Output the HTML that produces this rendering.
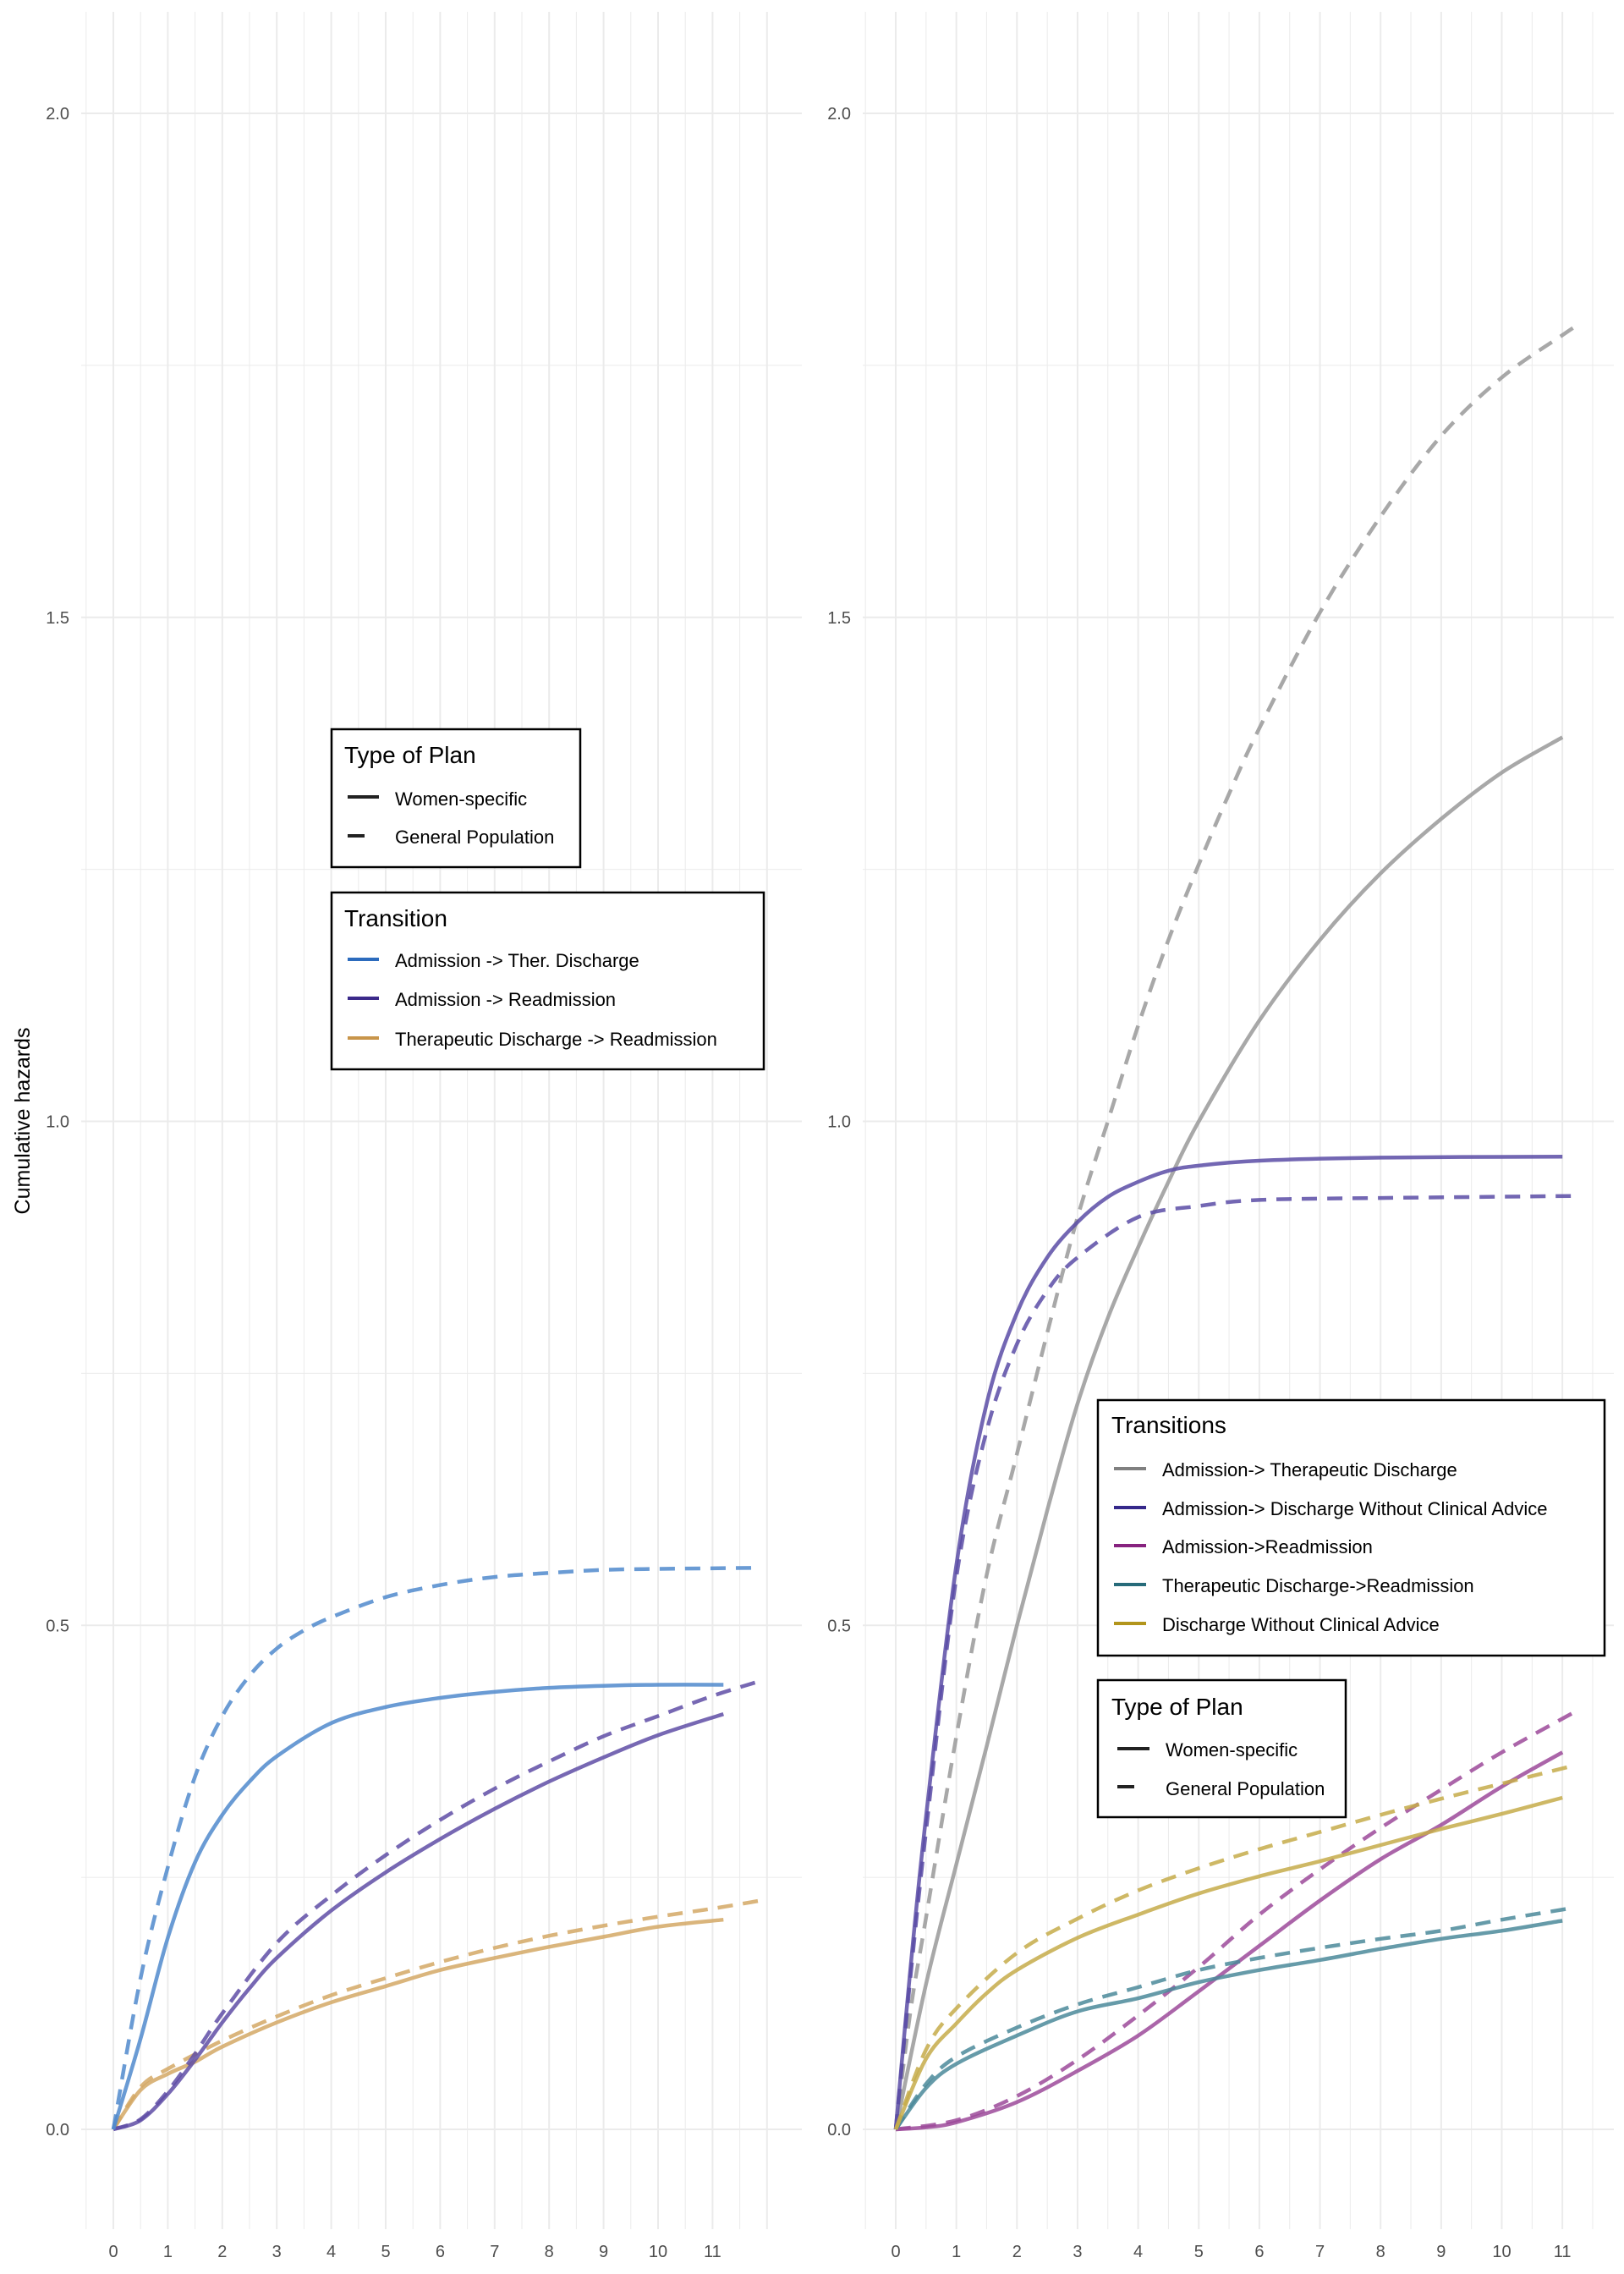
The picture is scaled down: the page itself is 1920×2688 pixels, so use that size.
<!DOCTYPE html>
<html><head><meta charset="utf-8"><title>Cumulative hazards</title>
<style>
html,body{margin:0;padding:0;background:#fff;}
svg{display:block;font-family:"Liberation Sans",Arial,sans-serif;}
</style></head>
<body>
<svg id="chart" width="1920" height="2688" viewBox="0 0 1920 2688" xmlns="http://www.w3.org/2000/svg">
<g id="grid"></g>
<g id="series"></g>
<g id="axes"></g>
<text x="0" y="0" transform="translate(35,1325) rotate(-90)" text-anchor="middle" font-size="25" fill="#000">Cumulative hazards</text>

<g>
<rect x="392" y="862" width="294" height="163" fill="#fff" stroke="#000" stroke-width="2.5"/>
<text x="407" y="902" font-size="28" fill="#000">Type of Plan</text>
<line x1="411" y1="942" x2="448" y2="942" stroke="#222" stroke-width="4"/>
<text x="467" y="952" font-size="22" fill="#000">Women-specific</text>
<line x1="411" y1="988" x2="431" y2="988" stroke="#222" stroke-width="4"/>
<text x="467" y="997" font-size="22" fill="#000">General Population</text>
</g>
<g>
<rect x="392" y="1055" width="511" height="209" fill="#fff" stroke="#000" stroke-width="2.5"/>
<text x="407" y="1095" font-size="28" fill="#000">Transition</text>
<line x1="411" y1="1134" x2="448" y2="1134" stroke="#2c6bbd" stroke-width="4"/>
<text x="467" y="1143" font-size="22" fill="#000">Admission -&gt; Ther. Discharge</text>
<line x1="411" y1="1180" x2="448" y2="1180" stroke="#3b2a8a" stroke-width="4"/>
<text x="467" y="1189" font-size="22" fill="#000">Admission -&gt; Readmission</text>
<line x1="411" y1="1227" x2="448" y2="1227" stroke="#c8954a" stroke-width="4"/>
<text x="467" y="1236" font-size="22" fill="#000">Therapeutic Discharge -&gt; Readmission</text>
</g>
<g>
<rect x="1298" y="1655" width="599" height="302" fill="#fff" stroke="#000" stroke-width="2.5"/>
<text x="1314" y="1694" font-size="28" fill="#000">Transitions</text>
<line x1="1317" y1="1736" x2="1355" y2="1736" stroke="#808080" stroke-width="4"/>
<text x="1374" y="1745" font-size="22" fill="#000">Admission-&gt; Therapeutic Discharge</text>
<line x1="1317" y1="1782" x2="1355" y2="1782" stroke="#35288a" stroke-width="4"/>
<text x="1374" y="1791" font-size="22" fill="#000">Admission-&gt; Discharge Without Clinical Advice</text>
<line x1="1317" y1="1827" x2="1355" y2="1827" stroke="#87227f" stroke-width="4"/>
<text x="1374" y="1836" font-size="22" fill="#000">Admission-&gt;Readmission</text>
<line x1="1317" y1="1873" x2="1355" y2="1873" stroke="#276b7a" stroke-width="4"/>
<text x="1374" y="1882" font-size="22" fill="#000">Therapeutic Discharge-&gt;Readmission</text>
<line x1="1317" y1="1919" x2="1355" y2="1919" stroke="#b2951c" stroke-width="4"/>
<text x="1374" y="1928" font-size="22" fill="#000">Discharge Without Clinical Advice</text>
</g>
<g>
<rect x="1298" y="1986" width="293" height="162" fill="#fff" stroke="#000" stroke-width="2.5"/>
<text x="1314" y="2027" font-size="28" fill="#000">Type of Plan</text>
<line x1="1321" y1="2067" x2="1359" y2="2067" stroke="#222" stroke-width="4"/>
<text x="1378" y="2076" font-size="22" fill="#000">Women-specific</text>
<line x1="1321" y1="2112" x2="1341" y2="2112" stroke="#222" stroke-width="4"/>
<text x="1378" y="2122" font-size="22" fill="#000">General Population</text>
</g>
</svg>
<script>
// ---- Left panel data ----
const leftBlueSolidX = [0,0.5,1,1.5,2,2.5,3,4,5,6,7,8,9,10,11.2];
const leftBlueSolidY = [0,0.09,0.19,0.265,0.312,0.345,0.37,0.403,0.419,0.428,0.434,0.438,0.44,0.441,0.441];
const leftBlueDashX = [0,0.5,1,1.5,2,2.5,3,3.5,4,5,6,7,8,9,10,11.8];
const leftBlueDashY = [0,0.15,0.26,0.35,0.41,0.45,0.477,0.495,0.508,0.528,0.54,0.548,0.552,0.555,0.556,0.557];
const leftPurpleSolidX = [0,0.5,1,1.5,2,2.5,3,4,5,6,7,8,9,10,11.2];
const leftPurpleSolidY = [0,0.009,0.035,0.069,0.106,0.14,0.17,0.217,0.255,0.288,0.318,0.345,0.369,0.391,0.412];
const leftPurpleDashX = [0,0.5,1,1.5,2,3,4,5,6,7,8,9,10,11,11.95];
const leftPurpleDashY = [0,0.01,0.038,0.075,0.115,0.185,0.232,0.272,0.307,0.338,0.365,0.39,0.41,0.43,0.446];
const leftTanSolidX = [0,0.5,1,1.5,2,3,4,5,6,7,8,9,10,11.2];
const leftTanSolidY = [0,0.039,0.055,0.067,0.082,0.106,0.126,0.142,0.158,0.17,0.181,0.191,0.201,0.208];
const leftTanDashX = [0,0.5,1,2,3,4,5,6,7,8,9,10,11,12];
const leftTanDashY = [0,0.042,0.06,0.088,0.112,0.133,0.15,0.166,0.18,0.192,0.202,0.211,0.219,0.228];
// ---- Right panel data ----
const rightGreySolidX = [0,0.5,1,1.5,2,2.5,3,3.5,4,4.5,5,6,7,8,9,10,11];
const rightGreySolidY = [0,0.144,0.263,0.38,0.5,0.614,0.72,0.805,0.875,0.94,1.0,1.1,1.18,1.246,1.3,1.346,1.381];
const rightGreyDashX = [0,0.25,0.5,1,1.5,2,2.5,3,3.5,4,4.5,5,5.5,6,7,8,9,10,11,11.3];
const rightGreyDashY = [0,0.12,0.21,0.39,0.55,0.67,0.79,0.905,1.0,1.095,1.18,1.255,1.325,1.39,1.505,1.6,1.68,1.738,1.78,1.792];
const rightPurpleSolidX = [0,0.25,0.5,1,1.5,2,2.5,3,3.5,4,4.5,5,6,8,11];
const rightPurpleSolidY = [0,0.164,0.31,0.56,0.72,0.81,0.865,0.9,0.925,0.94,0.951,0.956,0.961,0.964,0.965];
const rightPurpleDashX = [0,0.25,0.5,1,1.5,2,2.5,3,4,5,6,8,11.2];
const rightPurpleDashY = [0,0.155,0.296,0.548,0.693,0.779,0.832,0.865,0.905,0.916,0.922,0.924,0.926];
const rightMagSolidX = [0,0.5,1,2,3,4,5,6,7,8,9,10,11];
const rightMagSolidY = [0,0.002,0.007,0.027,0.058,0.093,0.137,0.182,0.227,0.268,0.302,0.34,0.374];
const rightMagDashX = [0,1,2,3,4,5,6,7,8,9,10,11.2];
const rightMagDashY = [0,0.009,0.033,0.069,0.113,0.161,0.213,0.258,0.299,0.337,0.374,0.414];
const rightTealSolidX = [0,0.5,1,2,3,4,5,6,7,8,9,10,11];
const rightTealSolidY = [0,0.041,0.065,0.093,0.117,0.13,0.146,0.158,0.168,0.179,0.189,0.197,0.207];
const rightTealDashX = [0,0.5,1,2,3,4,5,6,7,8,9,10,11.2];
const rightTealDashY = [0,0.045,0.072,0.101,0.124,0.141,0.158,0.17,0.18,0.189,0.197,0.208,0.22];
const rightGoldSolidX = [0,0.5,1,1.5,2,3,4,5,6,7,8,9,10,11];
const rightGoldSolidY = [0,0.07,0.105,0.135,0.158,0.19,0.213,0.234,0.251,0.266,0.282,0.298,0.313,0.329];
const rightGoldDashX = [0,0.5,1,2,3,4,5,6,7,8,9,10,11.2];
const rightGoldDashY = [0,0.079,0.12,0.175,0.209,0.237,0.259,0.278,0.295,0.312,0.328,0.343,0.361];
// ---- tick labels ----
const xTickLabels = ["0","1","2","3","4","5","6","7","8","9","10","11"];
const yTickValues = [0,0.5,1,1.5,2];
const yTickLabels = ["0.0","0.5","1.0","1.5","2.0"];

const NS = "http://www.w3.org/2000/svg";
const xL = v => 134 + v*64.4;
const xR = v => 1059 + v*71.65;
const yS = v => 2517 - v*1191.5;

function mk(tag, attrs, parent){
  const el = document.createElementNS(NS, tag);
  for (const k in attrs) el.setAttribute(k, attrs[k]);
  parent.appendChild(el);
  return el;
}
const grid = document.getElementById('grid');
const axes = document.getElementById('axes');
const series = document.getElementById('series');

function drawGrid(xs, xmin, xmax, hx1, hx2, label){
  for (let v = xmin; v <= xmax + 1e-9; v += 0.5){
    const major = Math.abs(v - Math.round(v)) < 1e-9;
    const l = mk('line', {x1:xs(v), x2:xs(v), y1:14, y2:2635, stroke:'#ebebeb', 'stroke-width': major?2:1}, grid);
    
    
  }
  for (let v = 0; v <= 2 + 1e-9; v += 0.25){
    const major = Math.abs(v*2 - Math.round(v*2)) < 1e-9;
    const l = mk('line', {x1:hx1, x2:hx2, y1:yS(v), y2:yS(v), stroke:'#ebebeb', 'stroke-width': major?2:1}, grid);
    
    
  }
}
drawGrid(xL, -0.5, 12, 96, 948, 'left-panel');
drawGrid(xR, -0.5, 11.5, 1020, 1908, 'right-panel');

function drawTicks(xs, yLabelX, label){
  xTickLabels.forEach((t, i) => {
    const e = mk('text', {x:xs(i), y:2668, 'text-anchor':'middle', 'font-size':20, fill:'#4d4d4d'}, axes);
    e.textContent = t;
    
    
  });
  yTickValues.forEach((v, i) => {
    const e = mk('text', {x:yLabelX, y:yS(v)+7, 'text-anchor':'end', 'font-size':20, fill:'#4d4d4d'}, axes);
    e.textContent = yTickLabels[i];
    
    
  });
}
drawTicks(xL, 82, 'left-panel');
drawTicks(xR, 1006, 'right-panel');

function pathFrom(xs, xv, yv){
  const p = xv.map((x, i) => [xs(x), yS(yv[i])]);
  let d = 'M' + p[0][0].toFixed(1) + ',' + p[0][1].toFixed(1);
  for (let i = 0; i < p.length - 1; i++){
    const p0 = p[Math.max(i-1,0)], p1 = p[i], p2 = p[i+1], p3 = p[Math.min(i+2,p.length-1)];
    const c1x = p1[0] + (p2[0]-p0[0])/6, c1y = p1[1] + (p2[1]-p0[1])/6;
    const c2x = p2[0] - (p3[0]-p1[0])/6, c2y = p2[1] - (p3[1]-p1[1])/6;
    d += ' C' + c1x.toFixed(1) + ',' + c1y.toFixed(1) + ' ' + c2x.toFixed(1) + ',' + c2y.toFixed(1) + ' ' + p2[0].toFixed(1) + ',' + p2[1].toFixed(1);
  }
  return d;
}
function drawSeries(xs, xv, yv, color, dashed, name){
  const el = mk('path', {d:pathFrom(xs, xv, yv), fill:'none', stroke:color, 'stroke-width':4.5, 'stroke-opacity':0.85, 'stroke-linecap':'butt'}, series);
  if (dashed) el.setAttribute('stroke-dasharray', '18 12');
  
  
}
drawSeries(xL, leftTanSolidX, leftTanSolidY, '#d4a865', false, 'left-ther-discharge-readmission-women');
drawSeries(xL, leftTanDashX, leftTanDashY, '#d4a865', true, 'left-ther-discharge-readmission-general');
drawSeries(xL, leftPurpleSolidX, leftPurpleSolidY, '#5f4ea6', false, 'left-admission-readmission-women');
drawSeries(xL, leftPurpleDashX, leftPurpleDashY, '#5f4ea6', true, 'left-admission-readmission-general');
drawSeries(xL, leftBlueSolidX, leftBlueSolidY, '#5089cc', false, 'left-admission-ther-discharge-women');
drawSeries(xL, leftBlueDashX, leftBlueDashY, '#5089cc', true, 'left-admission-ther-discharge-general');

drawSeries(xR, rightGreySolidX, rightGreySolidY, '#999999', false, 'right-admission-ther-discharge-women');
drawSeries(xR, rightGreyDashX, rightGreyDashY, '#999999', true, 'right-admission-ther-discharge-general');
drawSeries(xR, rightPurpleSolidX, rightPurpleSolidY, '#5a4ca6', false, 'right-admission-discharge-wca-women');
drawSeries(xR, rightPurpleDashX, rightPurpleDashY, '#5a4ca6', true, 'right-admission-discharge-wca-general');
drawSeries(xR, rightMagSolidX, rightMagSolidY, '#9c4a9a', false, 'right-admission-readmission-women');
drawSeries(xR, rightMagDashX, rightMagDashY, '#9c4a9a', true, 'right-admission-readmission-general');
drawSeries(xR, rightTealSolidX, rightTealSolidY, '#4b8a9a', false, 'right-ther-discharge-readmission-women');
drawSeries(xR, rightTealDashX, rightTealDashY, '#4b8a9a', true, 'right-ther-discharge-readmission-general');
drawSeries(xR, rightGoldSolidX, rightGoldSolidY, '#c6ac4a', false, 'right-discharge-wca-readmission-women');
drawSeries(xR, rightGoldDashX, rightGoldDashY, '#c6ac4a', true, 'right-discharge-wca-readmission-general');
</script>
</body></html>
